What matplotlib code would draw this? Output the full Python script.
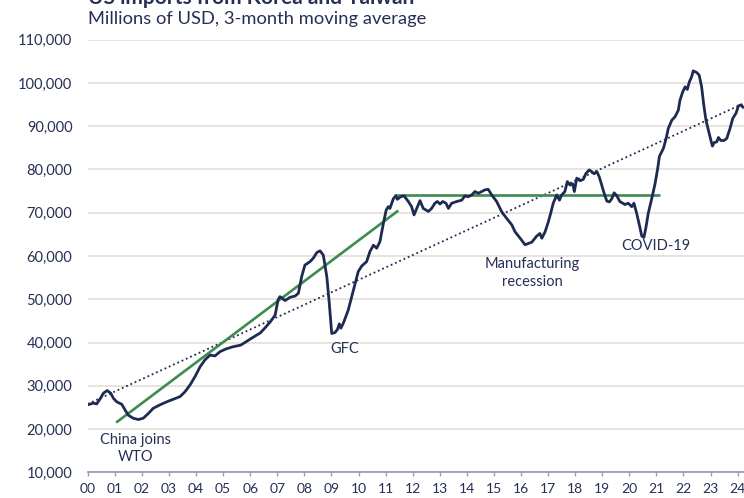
import matplotlib
matplotlib.use("Agg")
import matplotlib.pyplot as plt

plt.rcParams['font.family'] = ['Lato', 'DejaVu Sans']

# US imports, millions of USD, 3-month moving average
years = [2000.00, 2000.21, 2000.33, 2000.45, 2000.58, 2000.72, 2000.85, 2000.95,
         2001.07, 2001.26, 2001.38, 2001.50, 2001.68, 2001.87, 2002.05, 2002.24,
         2002.42, 2002.67, 2002.92, 2003.16, 2003.41, 2003.59, 2003.78, 2003.96,
         2004.15, 2004.33, 2004.52, 2004.70, 2004.89, 2005.10, 2005.35, 2005.65,
         2005.95, 2006.18, 2006.37, 2006.55, 2006.73, 2006.92, 2007.03, 2007.10,
         2007.29, 2007.47, 2007.66, 2007.78, 2007.90, 2008.02, 2008.21, 2008.33,
         2008.46, 2008.58, 2008.70, 2008.83, 2008.92, 2009.01, 2009.13, 2009.22,
         2009.29, 2009.35, 2009.46, 2009.62, 2009.81, 2009.99, 2010.12, 2010.30,
         2010.42, 2010.55, 2010.67, 2010.79, 2010.92, 2011.02, 2011.10, 2011.16,
         2011.29, 2011.38, 2011.43, 2011.56, 2011.68, 2011.84, 2011.96, 2012.05,
         2012.15, 2012.27, 2012.39, 2012.58, 2012.70, 2012.82, 2012.91, 2013.01,
         2013.11, 2013.23, 2013.32, 2013.44, 2013.63, 2013.81, 2013.93, 2014.05,
         2014.18, 2014.30, 2014.42, 2014.55, 2014.67, 2014.79, 2014.92, 2015.10,
         2015.29, 2015.47, 2015.66, 2015.78, 2015.97, 2016.15, 2016.40, 2016.58,
         2016.70, 2016.77, 2016.89, 2017.01, 2017.11, 2017.19, 2017.32, 2017.42,
         2017.50, 2017.62, 2017.71, 2017.81, 2017.91, 2017.97, 2018.06, 2018.18,
         2018.30, 2018.40, 2018.52, 2018.61, 2018.70, 2018.80, 2018.89, 2018.98,
         2019.07, 2019.17, 2019.26, 2019.35, 2019.44, 2019.53, 2019.65, 2019.84,
         2019.96, 2020.09, 2020.17, 2020.22, 2020.27, 2020.37, 2020.46, 2020.54,
         2020.62, 2020.70, 2020.83, 2020.95, 2021.05, 2021.11, 2021.26, 2021.36,
         2021.44, 2021.57, 2021.69, 2021.81, 2021.87, 2021.97, 2022.06, 2022.14,
         2022.22, 2022.30, 2022.36, 2022.49, 2022.58, 2022.67, 2022.75, 2022.83,
         2022.92, 2023.01, 2023.07, 2023.13, 2023.23, 2023.29, 2023.38, 2023.50,
         2023.60, 2023.72, 2023.82, 2023.94, 2024.03, 2024.12, 2024.20]
imports = [25600, 26000, 25800, 26900, 28300, 28900, 28300, 27100,
           26300, 25700, 24400, 23200, 22500, 22200, 22500, 23600,
           24800, 25600, 26300, 26900, 27500, 28600, 30200, 32100,
           34400, 36000, 37100, 36900, 37900, 38500, 39000, 39400,
           40600, 41500, 42200, 43400, 44700, 46300, 49900, 50600,
           49700, 50450, 50750, 51400, 55200, 57900, 58700, 59500,
           60800, 61200, 60200, 55200, 49100, 42100, 42300, 43000,
           44300, 43300, 44800, 47500, 52100, 56400, 57700, 58700,
           61000, 62500, 61800, 63300, 67600, 70600, 71400, 71000,
           73300, 73900, 73100, 73700, 73900, 72600, 71400, 69500,
           71000, 72800, 71000, 70300, 71000, 72200, 72600, 72000,
           72600, 72200, 71000, 72200, 72600, 72900, 73900, 73700,
           74100, 74900, 74500, 74900, 75300, 75400, 74100, 72600,
           70200, 68700, 67200, 65600, 64100, 62600, 63200, 64600,
           65200, 64100, 65600, 67900, 70200, 72200, 74100, 72900,
           74100, 74900, 77200, 76400, 76700, 74900, 78000, 77400,
           77700, 79100, 79900, 79500, 79000, 79500, 78300, 76400,
           74500, 72700, 72500, 73200, 74600, 74000, 72600, 71900,
           72200, 71400, 72200, 71000, 69900, 67200, 64600, 64300,
           66800, 69900, 73300, 76700, 80300, 83000, 84900, 87200,
           89500, 91400, 92200, 93700, 96000, 97900, 99100, 98500,
           100300, 101400, 102800, 102400, 101800, 99100, 94900, 91400,
           89100, 86800, 85400, 86200, 86400, 87400, 86700, 86700,
           87200, 89500, 91800, 93000, 94700, 94900, 94400]

# linear trend (dotted) and the two green guide lines
trend_x = [2000.0, 2024.2]
trend_y = [25800, 95200]
wto_x = [2001.05, 2011.47]
wto_y = [21500, 70500]
flat_x = [2011.31, 2021.13]
flat_y = [74000, 74000]

tick_years = list(range(2000, 2025))
tick_labels = ['%02d' % (y - 2000) for y in tick_years]

navy = '#1f2a52'
green = '#3d8b4f'
text_c = '#262f55'

fig = plt.figure(figsize=(7.44, 4.98), dpi=100)
ax = fig.add_axes([0.1179, 0.0516, 0.8821, 0.8687])

ax.plot(trend_x, trend_y, color=navy, lw=1.3, linestyle=(0, (1, 1.6)), zorder=2)
ax.plot(wto_x, wto_y, color=green, lw=1.9, zorder=3, solid_capstyle='butt')
ax.plot(flat_x, flat_y, color=green, lw=1.9, zorder=3, solid_capstyle='butt')
ax.plot(years, imports, color=navy, lw=2.0, zorder=4, solid_joinstyle='round')

ax.set_xlim(2000, 2024.235)
ax.set_ylim(10000, 110000)
ax.set_yticks(range(10000, 110001, 10000))
ax.set_yticklabels(['{:,}'.format(v) for v in range(10000, 110001, 10000)])
ax.set_xticks(tick_years)
ax.set_xticklabels(tick_labels)

ax.grid(axis='y', color='#e2ddd1', lw=1.1)
ax.set_axisbelow(True)
for s in ['top', 'right', 'left']:
    ax.spines[s].set_visible(False)
ax.spines['bottom'].set_color('#9a9fb5')
ax.spines['bottom'].set_linewidth(1.3)
ax.spines['bottom'].set_zorder(5)

ax.tick_params(axis='y', length=0, pad=11, labelsize=10.5, labelcolor=text_c)
ax.tick_params(axis='x', length=3, width=1, color='#9a9fb5', pad=5,
               labelsize=10, labelcolor=text_c)

ann = dict(ha='center', va='center', fontsize=10.5, color=text_c, linespacing=1.35)
ax.text(2001.75, 15500, 'China joins\nWTO', **ann)
ax.text(2009.5, 38500, 'GFC', **ann)
ax.text(2016.41, 56000, 'Manufacturing\nrecession', **ann)
ax.text(2020.99, 62300, 'COVID-19', **ann)

fig.text(0.1179, 1 - 4.5 / 498, 'US imports from Korea and Taiwan', fontsize=15,
         fontweight='bold', color=text_c, va='baseline', ha='left')
fig.text(0.1179, 1 - 24 / 498, 'Millions of USD, 3-month moving average',
         fontsize=13.2, color=text_c, va='baseline', ha='left')

fig.savefig('out.png', dpi=100)
